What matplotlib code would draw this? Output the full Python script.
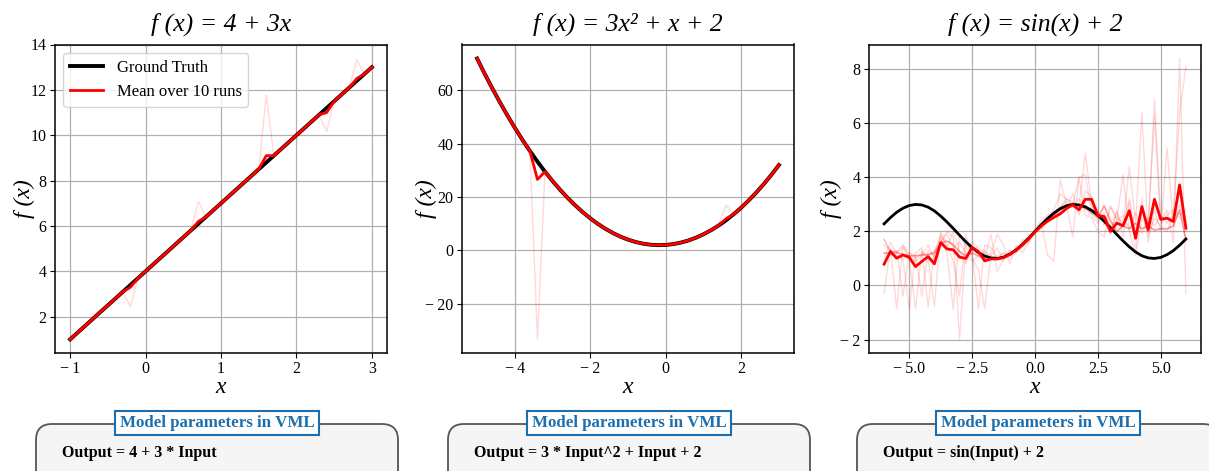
import numpy as np
import matplotlib.pyplot as plt
from matplotlib.patches import FancyBboxPatch
from matplotlib.transforms import IdentityTransform
from matplotlib.ticker import ScalarFormatter

plt.rcParams['font.family'] = ['Liberation Serif', 'DejaVu Serif']
plt.rcParams['axes.unicode_minus'] = True

# ---- panel 1 : f(x) = 4 + 3x ----
lin_x = np.linspace(-1, 3, 41)
lin_truth = [1.0, 1.3, 1.6, 1.9, 2.2, 2.5, 2.8, 3.1, 3.4, 3.7, 4.0, 4.3, 4.6, 4.9,
             5.2, 5.5, 5.8, 6.1, 6.4, 6.7, 7.0, 7.3, 7.6, 7.9, 8.2, 8.5, 8.8, 9.1,
             9.4, 9.7, 10.0, 10.3, 10.6, 10.9, 11.2, 11.5, 11.8, 12.1, 12.4, 12.7, 13.0]
lin_mean = [1.0, 1.3, 1.6, 1.9, 2.2, 2.5, 2.8, 3.1, 3.3, 3.7, 4.0, 4.3, 4.6, 4.9,
            5.2, 5.5, 5.8, 6.2, 6.4, 6.7, 7.0, 7.3, 7.6, 7.9, 8.2, 8.5, 9.1, 9.1,
            9.4, 9.7, 10.0, 10.3, 10.6, 10.9, 11.0, 11.5, 11.8, 12.1, 12.5, 12.7, 13.0]
# single runs only visible where they leave the mean
lin_runs_x = [[-0.3, -0.2, -0.1], [0.6, 0.7, 0.8], [1.5, 1.6, 1.7],
              [2.3, 2.4, 2.5], [2.7, 2.8, 2.9]]
lin_runs_y = [[3.1, 2.44, 3.7], [5.8, 7.08, 6.4], [8.5, 11.77, 9.1],
              [10.9, 10.16, 11.5], [12.1, 13.34, 12.7]]

# ---- panel 2 : f(x) = 3x^2 + x + 2 ----
quad_x = np.linspace(-5, 3, 41)
quad_truth = [72.0, 66.32, 60.88, 55.68, 50.72, 46.0, 41.52, 37.28, 33.28, 29.52,
              26.0, 22.72, 19.68, 16.88, 14.32, 12.0, 9.92, 8.08, 6.48, 5.12, 4.0,
              3.12, 2.48, 2.08, 1.92, 2.0, 2.32, 2.88, 3.68, 4.72, 6.0, 7.52, 9.28,
              11.28, 13.52, 16.0, 18.72, 21.68, 24.88, 28.32, 32.0]
quad_mean = [72.0, 66.32, 60.88, 55.68, 50.72, 46.0, 41.52, 37.28, 26.6, 29.52,
             26.0, 22.72, 19.68, 16.88, 14.32, 12.0, 9.92, 8.08, 6.48, 5.12, 4.0,
             3.12, 2.48, 2.08, 1.92, 2.0, 2.32, 2.88, 3.68, 4.72, 6.0, 7.52, 9.28,
             11.85, 13.52, 16.0, 18.72, 21.68, 24.88, 28.32, 32.0]
quad_runs_x = [[-3.6, -3.4, -3.2], [1.4, 1.6, 1.8]]
quad_runs_y = [[37.28, -33.3, 29.52], [9.28, 17.0, 13.52]]

# ---- panel 3 : f(x) = sin(x) + 2 ----
sin_x = np.linspace(-6, 6, 49)
sin_truth = [2.28, 2.51, 2.71, 2.86, 2.96, 3.00, 2.98, 2.90, 2.76, 2.57, 2.35, 2.11,
             1.86, 1.62, 1.40, 1.22, 1.09, 1.02, 1.00, 1.05, 1.16, 1.32, 1.52, 1.75,
             2.00, 2.25, 2.48, 2.68, 2.84, 2.95, 3.00, 2.98, 2.91, 2.78, 2.60, 2.38,
             2.14, 1.89, 1.65, 1.43, 1.24, 1.10, 1.02, 1.00, 1.04, 1.14, 1.29, 1.49, 1.72]
sin_mean = [0.79, 1.26, 1.01, 1.13, 1.04, 0.70, 0.89, 1.07, 0.80, 1.59, 1.35, 1.32,
            1.05, 1.00, 1.41, 1.26, 0.91, 0.98, 0.98, 1.03, 1.15, 1.30, 1.50, 1.72,
            1.98, 2.20, 2.38, 2.52, 2.65, 2.85, 2.98, 2.80, 3.19, 3.19, 2.59, 2.55,
            2.00, 2.31, 2.21, 2.77, 1.75, 2.92, 2.06, 3.19, 2.45, 2.49, 2.37, 3.72, 2.12]
# several runs lying on top of each other (looks darker)
sin_stack = [1.20, 1.20, 1.22, 1.15, 1.10, 1.10, 1.12, 1.15, 1.20, 1.55, 1.65, 1.50,
             1.25, 1.10, 1.20, 1.10, 1.00, 1.00, 1.00, 1.05, 1.16, 1.32, 1.52, 1.75,
             2.00, 2.25, 2.45, 2.62, 2.80, 2.95, 3.00, 2.95, 2.85, 2.70, 2.50, 2.95,
             2.40, 2.00, 2.20, 2.10, 2.30, 2.10, 2.20, 2.05, 2.10, 2.10, 2.20, 2.80, 1.70]
sin_runs = [
    [-0.30, 1.40, -0.87, 1.48, 1.00, -0.87, 1.30, 1.00, -0.77, 2.00, 1.50, 0.90,
     -0.40, 1.90, 1.00, 0.60, -0.87, 1.20, 1.90, 1.48, 0.80, 1.50, 1.20, 1.60,
     2.00, 2.30, 1.13, 0.90, 3.90, 3.00, 1.80, 4.00, 2.60, 2.50, 2.00, 1.80,
     2.95, 2.40, 4.10, 2.00, 1.10, 2.50, 2.00, 6.90, 2.40, 2.80, 1.60, 8.40, -0.30],
    [1.72, 1.20, 1.30, -0.40, 1.20, 1.10, -0.40, 1.30, 1.10, 1.60, 2.00, 1.80,
     -1.98, 1.50, 1.30, 1.20, 1.00, 1.90, 0.50, 1.00, 1.30, 1.20, 1.70, 1.60,
     2.10, 2.40, 2.60, 2.80, 3.40, 3.20, 3.10, 2.90, 4.90, 3.00, 2.40, 2.60,
     2.00, 2.70, 2.20, 4.40, 2.30, 6.40, 1.80, 2.50, 2.20, 2.00, 2.60, 6.40, 8.10],
    [1.50, 1.30, 1.10, 1.00, -0.90, 1.20, 1.40, -0.80, 1.30, 1.80, 1.20, -0.90,
     1.90, 1.40, 1.20, -0.87, 1.50, 1.40, 1.00, 1.20, 1.00, 1.40, 1.50, 1.90,
     1.90, 2.20, 2.50, 2.70, 2.90, 3.20, 3.00, 4.00, 4.10, 2.70, 2.80, 2.20,
     2.90, 2.50, 2.30, 3.20, 2.00, 2.90, 2.20, 6.30, 2.30, 2.60, 2.80, 2.60, 2.80],
    [1.00, 1.60, 1.20, 1.40, 1.10, 0.90, 1.10, 1.50, 1.00, 1.90, 1.40, 2.00,
     1.30, 0.80, 1.60, 1.40, 1.20, 1.10, 1.40, 0.90, 1.30, 1.20, 1.60, 1.80,
     2.00, 2.10, 2.40, 2.60, 2.70, 2.80, 3.40, 2.60, 3.50, 3.30, 2.70, 2.40,
     1.90, 2.80, 1.80, 3.10, 1.30, 3.20, 1.60, 2.80, 2.00, 5.10, 2.20, 3.00, 2.00],
    [1.70, 1.30, 1.25, 1.50, 1.20, 1.00, 1.20, 1.10, 1.30, 1.60, 1.90, 1.40,
     1.60, 1.20, 0.90, 1.10, 1.30, 1.00, 1.10, 1.20, 1.10, 1.30, 1.40, 1.70,
     2.00, 2.20, 2.40, 2.60, 2.90, 3.10, 2.90, 3.20, 3.00, 2.60, 2.30, 2.70,
     2.20, 2.40, 2.60, 2.10, 2.70, 1.90, 2.50, 2.20, 2.60, 2.30, 2.70, 2.50, 2.40],
]

titles = ['f (x) = 4 + 3x', 'f (x) = 3x² + x + 2', 'f (x) = sin(x) + 2']
vml_text = ['Output = 4 + 3 * Input', 'Output = 3 * Input^2 + Input + 2',
            'Output = sin(Input) + 2']


class GapMinus(ScalarFormatter):
    # tick labels like "− 1" (minus set off by a thin space)
    def __call__(self, x, pos=None):
        return super().__call__(x, pos).replace('\u2212', '\u2212\u2009')


W, H = 1209, 471
fig = plt.figure(figsize=(W / 100, H / 100), dpi=100)
lefts = [55, 462, 869]
axes = [fig.add_axes([l / W, 1 - 353 / H, 332 / W, 308.5 / H]) for l in lefts]

faint = dict(color='red', alpha=0.15, lw=1)

ax = axes[0]
for xs, ys in zip(lin_runs_x, lin_runs_y):
    ax.plot(xs, ys, **faint)
ax.plot(lin_x, lin_truth, color='black', lw=2.8, label='Ground Truth')
ax.plot(lin_x, lin_mean, color='red', lw=2, label='Mean over 10 runs')
ax.set_ylim(0.4, 14)
ax.legend(loc='upper left', fontsize=12)

ax = axes[1]
for xs, ys in zip(quad_runs_x, quad_runs_y):
    ax.plot(xs, ys, **faint)
ax.plot(quad_x, quad_truth, color='black', lw=2.8)
ax.plot(quad_x, quad_mean, color='red', lw=2)

ax = axes[2]
for ys in sin_runs:
    ax.plot(sin_x, ys, **faint)
ax.plot(sin_x, sin_stack, color='red', alpha=0.4, lw=1.2)
ax.plot(sin_x, sin_truth, color='black', lw=2)
ax.plot(sin_x, sin_mean, color='red', lw=2)

ylab_x = [-0.06, -0.075, -0.082]
for ax, t, lx in zip(axes, titles, ylab_x):
    ax.set_title(t, fontsize=18.5, fontstyle='italic', pad=10)
    ax.set_xlabel('x', fontsize=17, fontstyle='italic', labelpad=0)
    ax.set_ylabel('f (x)', fontsize=17, fontstyle='italic')
    ax.yaxis.set_label_coords(lx, 0.5)
    ax.grid(True, color='#b0b0b0', lw=0.9)
    ax.tick_params(labelsize=11.5, pad=2.5)
    ax.xaxis.set_major_formatter(GapMinus())
    ax.yaxis.set_major_formatter(GapMinus())
    for s in ax.spines.values():
        s.set_linewidth(1.1)

# boxes underneath the panels
box_left = [36, 448, 857]
blue = '#1c6fae'
for bl, txt in zip(box_left, vml_text):
    p = FancyBboxPatch((bl, -30), 362, H - 424 + 30,
                       boxstyle='round,pad=0,rounding_size=16',
                       transform=IdentityTransform(), fc='#f5f5f5',
                       ec='#555555', lw=1.3, zorder=1)
    fig.add_artist(p)
    fig.text((bl + 181) / W, 1 - 423 / H, 'Model parameters in VML',
             ha='center', va='center', fontsize=12.2, fontweight='bold',
             color=blue, zorder=3,
             bbox=dict(boxstyle='square,pad=0.25', fc='white', ec=blue, lw=1.5))
    fig.text((bl + 26) / W, 1 - 453 / H, txt, ha='left', va='center',
             fontsize=11.5, fontweight='bold', color='black', zorder=3)

fig.savefig('out.png', dpi=100)
